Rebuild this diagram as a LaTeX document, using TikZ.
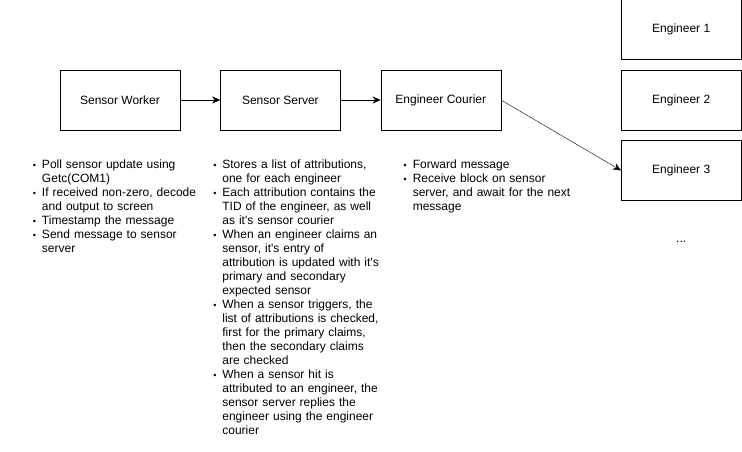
\documentclass[tikz,border=0pt]{standalone}
\usepackage{fontspec}
\setmainfont{Liberation Sans}
\usetikzlibrary{arrows.meta,positioning}

% bullet list used in the notes under the boxes
\newenvironment{notelist}{%
  \begin{list}{{\small\textbullet}}{%
    \setlength{\leftmargin}{12pt}\setlength{\labelwidth}{6pt}%
    \setlength{\labelsep}{6pt}\setlength{\itemsep}{0pt}%
    \setlength{\parsep}{0pt}\setlength{\topsep}{0pt}%
    \setlength{\partopsep}{0pt}}}%
  {\end{list}}
\newcommand{\apos}{\textquotesingle}

\begin{document}
\begin{tikzpicture}[
  node distance=40pt,
  proc/.style={rectangle, draw, minimum width=120pt, minimum height=60pt, font=\fontsize{12}{14}\selectfont},
  note/.style={inner sep=0pt, text width=178pt, align=left, font=\fontsize{12}{14}\selectfont},
  flow/.style={-{Stealth[length=8pt,width=7pt]}}
]
  \useasboundingbox (0,0) rectangle (742pt,-452pt);

  \node[proc] (worker) at (120pt,-100pt) {Sensor Worker};
  \node[proc, right=of worker] (server) {Sensor Server};
  \node[proc, right=of server] (courier) {Engineer Courier};
  \node[proc, right=120pt of courier] (eng2) {Engineer 2};
  \node[proc, above=10pt of eng2] (eng1) {Engineer 1};
  \node[proc, below=10pt of eng2] (eng3) {Engineer 3};
  \node[font=\fontsize{12}{14}\selectfont, below=42pt of eng3.south, anchor=base] (more) {...};

  \draw[flow] (worker) -- (server);
  \draw[flow] (server) -- (courier);
  \draw[flow] (courier.east) -- (eng3.west);

  % notes
  \node[note, below right=24pt and -30pt of worker.south west] (wnote) {%
    \begin{notelist}
      \item Poll sensor update using\newline Getc(COM1)
      \item If received non-zero, decode\newline and output to screen
      \item Timestamp the message
      \item Send message to sensor\newline server
    \end{notelist}};
  \node[note, below right=24pt and -10pt of server.south west] (snote) {%
    \begin{notelist}
      \item Stores a list of attributions,\newline one for each engineer
      \item Each attribution contains the\newline TID of the engineer, as well\newline as it\apos s sensor courier
      \item When an engineer claims an\newline sensor, it\apos s entry of\newline attribution is updated with it\apos s\newline primary and secondary\newline expected sensor
      \item When a sensor triggers, the\newline list of attributions is checked,\newline first for the primary claims,\newline then the secondary claims\newline are checked
      \item When a sensor hit is\newline attributed to an engineer, the\newline sensor server replies the\newline engineer using the engineer\newline courier
    \end{notelist}};
  \node[note, below right=24pt and 20pt of courier.south west] (cnote) {%
    \begin{notelist}
      \item Forward message
      \item Receive block on sensor\newline server, and await for the next\newline message
    \end{notelist}};
\end{tikzpicture}
\end{document}
